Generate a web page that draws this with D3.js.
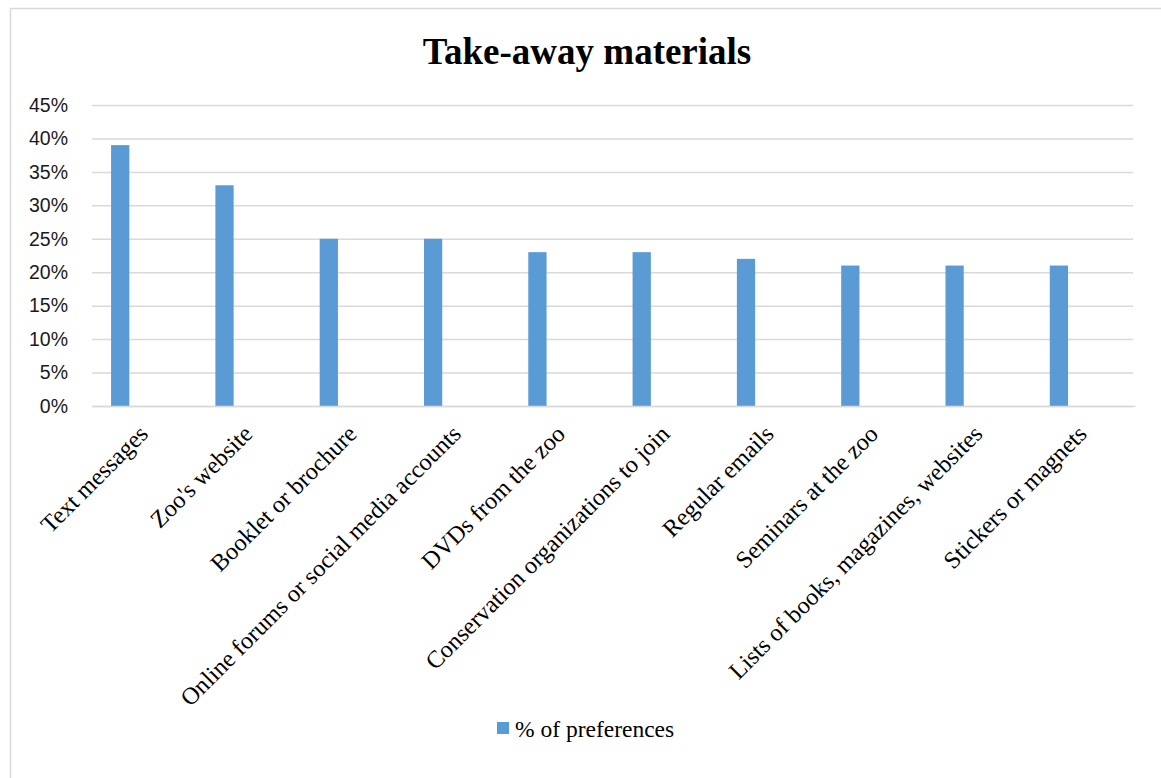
<!DOCTYPE html>
<html>
<head>
<meta charset="utf-8">
<script src="https://cdn.jsdelivr.net/npm/d3@7"></script>
<style>
  html, body { margin: 0; padding: 0; background: #fff; }
  svg { display: block; }
</style>
</head>
<body>
<svg id="chart" width="1161" height="778"></svg>
<script>
// Take-away materials: share of respondents preferring each item
const categories = [
  "Text messages",
  "Zoo's website",
  "Booklet or brochure",
  "Online forums or social media accounts",
  "DVDs from the zoo",
  "Conservation organizations to join",
  "Regular emails",
  "Seminars at the zoo",
  "Lists of books, magazines, websites",
  "Stickers or magnets"
];
const preferences = [39, 33, 25, 25, 23, 23, 22, 21, 21, 21];
const yTicks = [0, 5, 10, 15, 20, 25, 30, 35, 40, 45];
const seriesName = "% of preferences";
const chartTitle = "Take-away materials";

const svg = d3.select("#chart");
const W = 1161, H = 778;
const plot = { left: 92, right: 1135, top: 105, bottom: 406 };
const barColor = "#5b9bd5";
const gridColor = "#d9d9d9";
const serif = "'Liberation Serif', 'Times New Roman', serif";
const sans = "'Liberation Sans', Arial, sans-serif";

// chart frame
svg.append("rect")
  .attr("x", 10.5).attr("y", 8.5)
  .attr("width", W).attr("height", H)
  .attr("fill", "#fff").attr("stroke", gridColor).attr("stroke-width", 1.5);

// title
svg.append("text")
  .attr("x", 587).attr("y", 64)
  .attr("text-anchor", "middle")
  .attr("font-family", serif).attr("font-weight", "bold")
  .attr("font-size", 37)
  .attr("fill", "#000")
  .text(chartTitle);

const x = d3.scaleBand().domain(categories).range([plot.left, plot.right]).padding(0);
const y = d3.scaleLinear().domain([0, 45]).range([plot.bottom, plot.top]);

// horizontal gridlines
const yAxis = d3.axisLeft(y)
  .tickValues(yTicks)
  .tickSize(-(plot.right - plot.left - 2))
  .tickPadding(24)
  .tickFormat(d => d + "%");
const gy = svg.append("g").attr("transform", `translate(${plot.left},0)`).call(yAxis);
gy.select(".domain").remove();
gy.selectAll(".tick line").attr("stroke", gridColor).attr("stroke-width", 1.5);
gy.selectAll(".tick text")
  .attr("font-family", sans).attr("font-size", 19.5).attr("fill", "#1a1a1a");

// bars sit in the left part of each category slot
const step = x.step();
svg.append("g").selectAll("rect")
  .data(preferences)
  .join("rect")
  .attr("x", (d, i) => x(categories[i]) + step * 0.183)
  .attr("width", step * 0.175)
  .attr("y", d => y(d))
  .attr("height", d => y(0) - y(d))
  .attr("fill", barColor);

// category axis
const xAxis = d3.axisBottom(x).tickSize(0).tickPadding(0);
const gx = svg.append("g").attr("transform", `translate(0,${plot.bottom})`).call(xAxis);
gx.select(".domain").attr("stroke", gridColor).attr("stroke-width", 1.5);
gx.selectAll(".tick text")
  .attr("font-family", serif).attr("font-size", 24.2).attr("fill", "#000")
  .attr("text-anchor", "end")
  .attr("dy", "0.72em")
  .attr("transform", "translate(-7,17) rotate(-45)");

// legend
const lg = svg.append("g").attr("transform", "translate(497,722)");
lg.append("rect").attr("width", 12).attr("height", 12).attr("fill", barColor);
lg.append("text")
  .attr("x", 18).attr("y", 15)
  .attr("font-family", serif).attr("font-size", 23.5).attr("fill", "#000")
  .text(seriesName);
</script>
</body>
</html>
